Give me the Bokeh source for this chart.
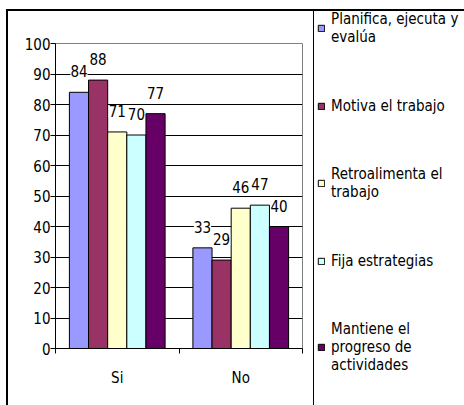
from bokeh.plotting import figure
from bokeh.models import (ColumnDataSource, Range1d, FixedTicker, LabelSet, Legend, LegendItem)
from bokeh.transform import dodge
from bokeh.core.properties import value
from bokeh.embed import file_html
from bokeh.resources import INLINE

categories = ["Si", "No"]
series_names = ["Planifica, ejecuta y\nevalúa", "Motiva el trabajo", "Retroalimenta el\ntrabajo",
                "Fija estrategias", "Mantiene el\nprogreso de\nactividades"]
planifica = [84, 33]
motiva = [88, 29]
retroalimenta = [71, 46]
fija = [70, 47]
mantiene = [77, 40]
y_ticks = [0, 10, 20, 30, 40, 50, 60, 70, 80, 90, 100]

series_values = [planifica, motiva, retroalimenta, fija, mantiene]
colors = ["#9999FF", "#993366", "#FFFFCC", "#CCFFFF", "#660066"]
offsets = [-0.31, -0.155, 0.0, 0.155, 0.31]
FONT = "DejaVu Sans Condensed"

centers = [i + 0.5 for i in range(len(categories))]
edges = list(range(len(categories) + 1))

p = figure(frame_width=247, frame_height=305, x_range=Range1d(0, len(categories)),
           y_range=Range1d(0, 100), output_backend="svg", toolbar_location=None,
           min_border_left=47, min_border_right=162,
           min_border_top=32, min_border_bottom=57)
p.background_fill_color = "white"
p.border_fill_color = None
p.outline_line_color = "#808080"
p.outline_line_width = 1
p.styles = {
    "margin-left": "6px",
    "margin-top": "9px",
    "border-top": "2px solid black",
    "border-left": "2px solid black",
    "background": "linear-gradient(#000, #000) 305px 0 / 1px 100% no-repeat white",
}
p.xgrid.grid_line_color = None
p.ygrid.grid_line_color = "black"
p.ygrid.ticker = FixedTicker(ticks=y_ticks)

yax = p.yaxis[0]
yax.ticker = FixedTicker(ticks=y_ticks)
yax.axis_line_color = "black"
yax.major_tick_line_color = "black"
yax.major_tick_out = 5
yax.major_tick_in = 0
yax.minor_tick_line_color = None
yax.major_label_standoff = 0
yax.major_label_text_font = FONT
yax.major_label_text_font_size = "15px"
yax.major_label_text_color = "black"

xax = p.xaxis[0]
xax.ticker = FixedTicker(ticks=centers, minor_ticks=edges)
xax.major_label_overrides = {c: cat for c, cat in zip(centers, categories)}
xax.axis_line_color = "black"
xax.major_tick_line_color = None
xax.major_tick_out = 0
xax.major_tick_in = 0
xax.minor_tick_line_color = "black"
xax.minor_tick_out = 5
xax.minor_tick_in = 0
xax.major_label_standoff = 15
xax.major_label_text_font = FONT
xax.major_label_text_font_size = "15px"
xax.major_label_text_color = "black"

items = []
for name, vals, col, off in zip(series_names, series_values, colors, offsets):
    src = ColumnDataSource(dict(x=centers, val=vals, lab=[str(v) for v in vals]))
    r = p.vbar(x=dodge("x", off), top="val", width=0.155, source=src,
               fill_color=col, line_color="black", line_width=1)
    labels = LabelSet(x=dodge("x", off), y="val", text="lab", source=src,
                      y_offset=21, text_align="center", text_baseline="middle",
                      text_font=value(FONT), text_font_size="15px", text_color="black",
                      background_fill_color="white")
    p.add_layout(labels)
    items.append(LegendItem(label=name, renderers=[r]))

legend = Legend(items=items, location=(15, -26), margin=0, padding=3, spacing=50,
                glyph_width=8, glyph_height=8, label_standoff=6, label_height=19,
                label_text_font=FONT, label_text_font_size="15px", label_text_color="black",
                border_line_color=None, background_fill_color=None)
p.add_layout(legend, "right")

open("out.html", "w").write(file_html(p, INLINE))
